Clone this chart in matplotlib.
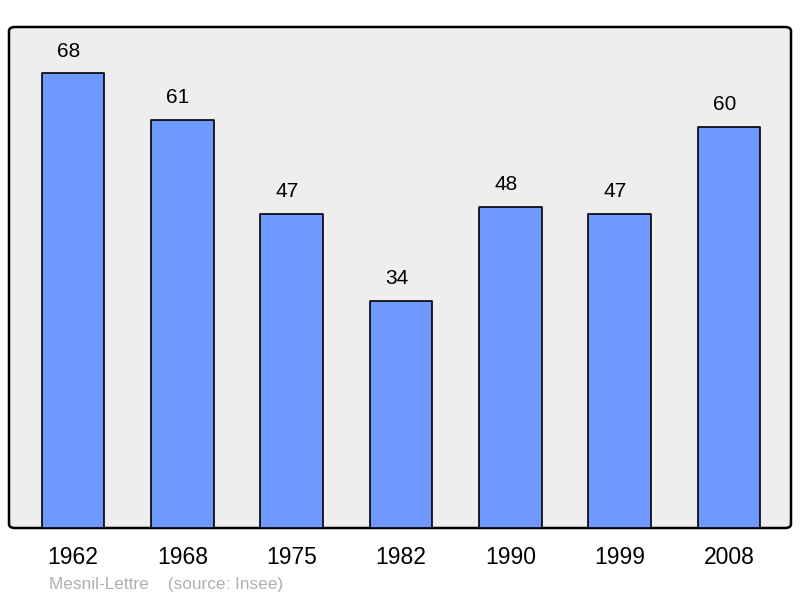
import matplotlib
matplotlib.use("Agg")
import matplotlib.pyplot as plt
from matplotlib.patches import FancyBboxPatch

years = ["1962", "1968", "1975", "1982", "1990", "1999", "2008"]
values = [68, 61, 47, 34, 48, 47, 60]

plt.rcParams['font.family'] = ['Liberation Sans', 'DejaVu Sans']

fig = plt.figure(figsize=(8, 5.98), dpi=100)
ax = fig.add_axes([9/800, 70/598, 782/800, 501/598])
ax.set_xlim(-0.585, 6.567)
ax.set_ylim(0, 74.9)
for s in ax.spines.values():
    s.set_visible(False)
ax.patch.set_visible(False)

bg = FancyBboxPatch((0, 0), 1, 1, boxstyle="round,pad=0,rounding_size=0.008",
                    transform=ax.transAxes, facecolor="#eeeeee", edgecolor="black",
                    linewidth=1.8, zorder=0, clip_on=False)
ax.add_patch(bg)

x = list(range(len(years)))
bars = ax.bar(x, values, width=0.575, color="#7099ff", edgecolor="black",
              linewidth=1.2, zorder=2)
for b in bars:
    b.set_joinstyle("round")
for xi, v in zip(x, values):
    ax.text(xi - 0.04, v + 3.3, str(v), ha="center", va="center", fontsize=15, color="black")

ax.set_xticks(x)
ax.set_xticklabels(years, fontsize=16.5)
ax.tick_params(axis="x", length=0, pad=13)
ax.set_yticks([])

fig.text(49/800, 1 - 584/598, "Mesnil-Lettre    (source: Insee)", fontsize=12.4,
         color="#b0b0b0", ha="left", va="center")

fig.savefig("out.png", dpi=100)
